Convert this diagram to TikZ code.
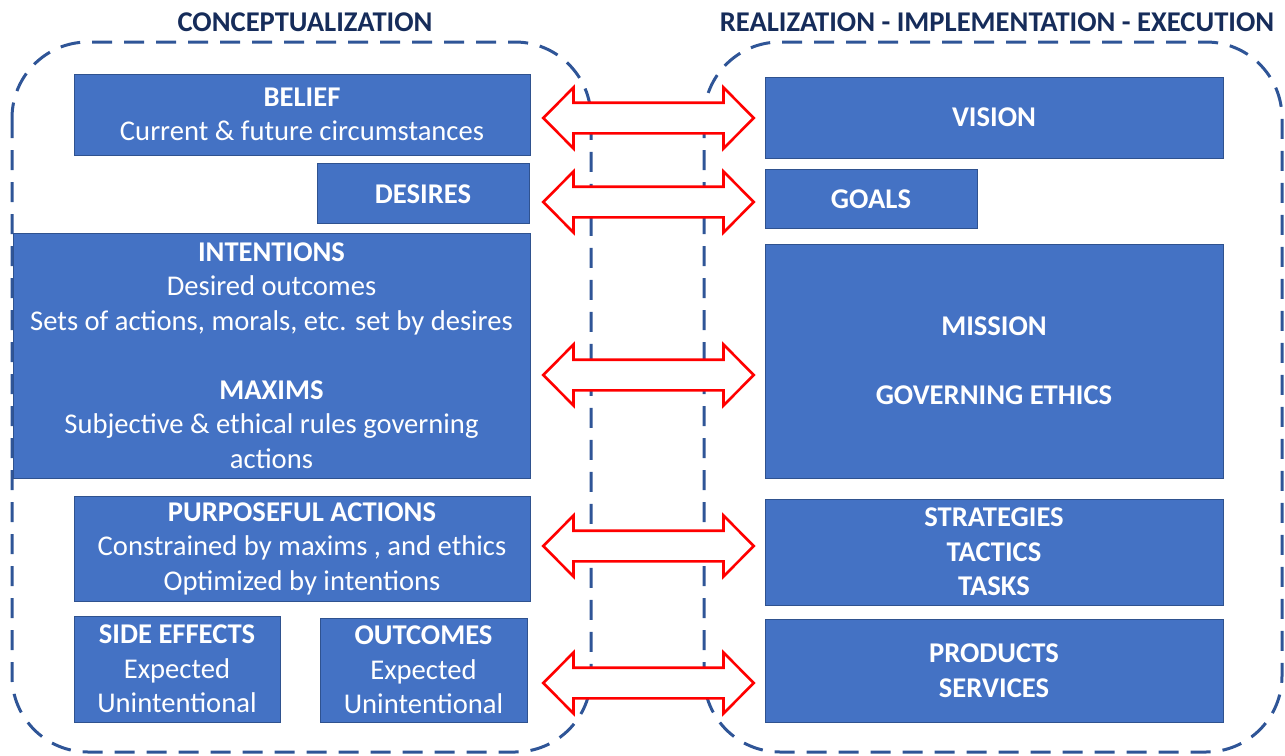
\documentclass[tikz,border=0pt]{standalone}
\usepackage{fontspec}
\setmainfont{Carlito}
\usetikzlibrary{positioning}

\definecolor{boxblue}{RGB}{68,114,196}
\definecolor{boxline}{RGB}{47,82,143}
\definecolor{framecol}{RGB}{47,85,151}
\definecolor{titlecol}{RGB}{22,44,90}

\tikzset{
  box/.style={draw=boxline, line width=0.4pt, fill=boxblue, text=white,
    align=center, inner sep=0pt, font=\fontsize{14.3}{17.25}\selectfont},
  frame/.style={draw=framecol, line width=1.5pt, dash pattern=on 10pt off 6pt,
    rounded corners=38pt},
  heading/.style={text=titlecol, font=\fontsize{14.3}{15}\selectfont\bfseries},
  link/.pic={\draw[red, fill=white, line width=1.3pt, miter limit=4]
    (-105.2,0) -- (-75,-30.5) -- (-75,-15.3) -- (75,-15.3) -- (75,-30.5)
    -- (105.2,0) -- (75,30.5) -- (75,15.3) -- (-75,15.3) -- (-75,30.5) -- cycle;}
}

\begin{document}
\begin{tikzpicture}[x=0.5pt, y=-0.5pt]
      \useasboundingbox (0,0) rectangle (1285,755);
      \node[heading] (concept) at (305,22) {CONCEPTUALIZATION};
      \node[heading] (realize) at (997,22) {REALIZATION - IMPLEMENTATION - EXECUTION};
      \draw[frame] (12,42) rectangle (591,752);
      \draw[frame] (704,42) rectangle (1282,752);
      % conceptualization side
      \node[box, minimum width=228pt, minimum height=40.5pt] (belief) at (302,114.5)
        {\textbf{BELIEF}\\Current \& future circumstances};
      \node[box, minimum width=106pt, minimum height=30pt, below left=4pt and 0.5pt of belief.south east] (desires)
        {\textbf{DESIRES}};
      \node[box, minimum width=258.5pt, minimum height=122.5pt] (intent) at (271.5,355.5)
        {\textbf{INTENTIONS}\\Desired outcomes\\Sets of actions, morals, etc. set by desires\\[17.25pt]
         \textbf{MAXIMS}\\Subjective \& ethical rules governing\\actions};
      \node[box, minimum width=228pt, minimum height=52.5pt] (action) at (302,548.5)
        {\textbf{PURPOSEFUL ACTIONS}\\Constrained by maxims , and ethics\\Optimized by intentions};
      \node[box, minimum width=103pt, minimum height=53pt] (side) at (177,669)
        {\textbf{SIDE EFFECTS}\\Expected\\Unintentional};
      \node[box, minimum width=103.5pt, minimum height=52pt] (outcome) at (423.5,670)
        {\textbf{OUTCOMES}\\Expected\\Unintentional};
      % realization side
      \node[box, minimum width=229pt, minimum height=40.5pt] (vision) at (994,117.5)
        {\textbf{VISION}};
      \node[box, minimum width=106pt, minimum height=29.5pt, below right=5.5pt and 0pt of vision.south west] (goals)
        {\textbf{GOALS}};
      \node[box, minimum width=229pt, minimum height=117pt] (mission) at (994,361)
        {\textbf{MISSION}\\[17.25pt]\textbf{GOVERNING ETHICS}};
      \node[box, minimum width=229pt, minimum height=53pt] (strategy) at (994,552)
        {\textbf{STRATEGIES}\\\textbf{TACTICS}\\\textbf{TASKS}};
      \node[box, minimum width=229pt, minimum height=51.5pt] (product) at (994,670.5)
        {\textbf{PRODUCTS}\\\textbf{SERVICES}};
      % links between the two sides
      \pic (bv) at (648.5,118) {link};
      \pic (dg) at (648.5,202) {link};
      \pic (im) at (648.5,375) {link};
      \pic (as) at (648.5,546) {link};
      \pic (op) at (648.5,683) {link};
\end{tikzpicture}
\end{document}
